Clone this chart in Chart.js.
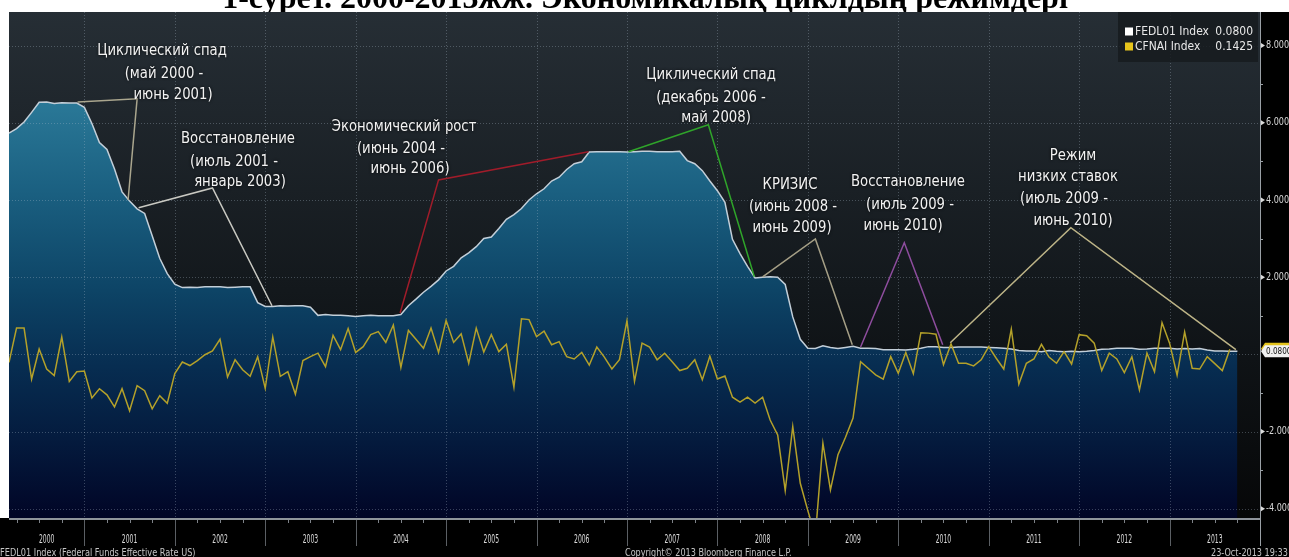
<!DOCTYPE html>
<html lang="ru">
<head>
<meta charset="UTF-8">
<title>FEDL01 / CFNAI 2000-2013</title>
<script src="https://cdn.jsdelivr.net/npm/chart.js"></script>
<style>
  html, body { margin: 0; padding: 0; background: #fff; }
  canvas { display: block; }
</style>
</head>
<body>
<canvas id="chart" width="1289" height="557"></canvas>
<script>
// x = months since 1 Jan 2000, monthly values plotted at month end (first point = Feb 2000)
const firstX = 2;
const years = ['2000','2001','2002','2003','2004','2005','2006','2007','2008','2009','2010','2011','2012','2013'];

// FEDL01 Index (Fed funds effective), Feb 2000 .. Sep 2013
const fedl01 = [
  5.73, 5.85, 6.02, 6.27, 6.53, 6.54, 6.50, 6.52, 6.51, 6.51, 6.40,
  5.98, 5.49, 5.31, 4.80, 4.21, 3.97, 3.77, 3.65, 3.07, 2.49, 2.09, 1.82,
  1.73, 1.74, 1.73, 1.75, 1.75, 1.75, 1.73, 1.74, 1.75, 1.75, 1.34, 1.24,
  1.24, 1.26, 1.25, 1.26, 1.26, 1.22, 1.01, 1.03, 1.01, 1.01, 1.00, 0.98,
  1.00, 1.01, 1.00, 1.00, 1.00, 1.03, 1.26, 1.43, 1.61, 1.76, 1.93, 2.16,
  2.28, 2.50, 2.63, 2.79, 3.00, 3.04, 3.26, 3.50, 3.62, 3.78, 4.00, 4.16,
  4.29, 4.49, 4.59, 4.79, 4.94, 4.99, 5.24, 5.25, 5.25, 5.25, 5.25, 5.24,
  5.25, 5.26, 5.26, 5.25, 5.25, 5.25, 5.26, 5.02, 4.94, 4.76, 4.49, 4.24,
  3.94, 2.98, 2.61, 2.28, 1.98, 2.00, 2.01, 2.00, 1.81, 0.97, 0.39, 0.16,
  0.15, 0.22, 0.18, 0.15, 0.18, 0.21, 0.16, 0.16, 0.15, 0.12, 0.12, 0.12,
  0.11, 0.13, 0.16, 0.20, 0.20, 0.18, 0.18, 0.19, 0.19, 0.19, 0.19, 0.18,
  0.17, 0.16, 0.14, 0.10, 0.09, 0.09, 0.07, 0.10, 0.08, 0.07, 0.08, 0.07,
  0.08, 0.10, 0.13, 0.14, 0.16, 0.16, 0.16, 0.13, 0.14, 0.16, 0.16, 0.16,
  0.14, 0.15, 0.14, 0.15, 0.11, 0.09, 0.09, 0.08, 0.08
];

// CFNAI Index, Feb 2000 .. Aug 2013
const cfnai = [
  -0.21, 0.68, 0.68, -0.64, 0.14, -0.38, -0.55, 0.45, -0.70, -0.45, -0.43,
  -1.13, -0.89, -1.05, -1.36, -0.89, -1.46, -0.81, -0.94, -1.41, -1.07, -1.27, -0.50,
  -0.20, -0.29, -0.16, -0.01, 0.09, 0.39, -0.59, -0.14, -0.40, -0.57, -0.06, -0.88,
  0.45, -0.57, -0.45, -1.03, -0.16, -0.06, 0.03, -0.32, 0.49, 0.12, 0.67, 0.05,
  0.20, 0.51, 0.59, 0.31, 0.76, -0.34, 0.62, 0.39, 0.16, 0.68, 0.05, 0.88,
  0.31, 0.53, -0.23, 0.68, 0.06, 0.51, 0.07, 0.26, -0.85, 0.92, 0.90, 0.46,
  0.60, 0.25, 0.33, -0.06, -0.12, 0.05, -0.28, 0.19, -0.07, -0.38, -0.14, 0.87,
  -0.70, 0.29, 0.19, -0.14, 0.03, -0.19, -0.42, -0.36, -0.14, -0.66, -0.05, -0.64,
  -0.56, -1.11, -1.24, -1.11, -1.26, -1.11, -1.70, -2.09, -3.53, -1.87, -3.34, -4.05,
  -4.70, -2.30, -3.51, -2.60, -2.15, -1.65, -0.19, -0.36, -0.53, -0.64, -0.06, -0.49,
  0.05, -0.50, 0.56, 0.55, 0.52, -0.27, 0.27, -0.23, -0.23, -0.30, -0.14, 0.20,
  -0.10, -0.38, 0.65, -0.77, -0.23, -0.12, 0.26, -0.07, -0.23, 0.07, -0.25, 0.51,
  0.48, 0.29, -0.42, 0.03, -0.12, -0.47, -0.06, -0.92, 0.03, -0.45, 0.82, 0.29,
  -0.54, 0.58, -0.36, -0.38, -0.06, -0.24, -0.42, 0.13
];

const rightTicks = [-4, -2, 2, 4, 6, 8];
const gridValues = [-4, -2, 0, 2, 4, 6, 8];
const yMin = -4.24, yMax = 8.87;
const xMax = 168;

const legendItems = [
  ['FEDL01 Index', '0.0800', '#ffffff'],
  ['CFNAI Index', '0.1425', '#e6c41c']
];

// regime call-outs: leader line in data units, text lines in pixels
const notes = [
  { color: '#aaa68e', path: [[11.1, 6.54], [19.0, 6.62], [17.8, 4.0]],
    text: [['Циклический спад', 162, 51], ['(май 2000 -', 164, 74], ['июнь 2001)', 173, 95]] },
  { color: '#c9c9c2', path: [[19.2, 3.80], [29.0, 4.31], [36.9, 1.26]],
    text: [['Восстановление', 238, 139], ['(июль 2001 -', 234, 162], ['январь 2003)', 240, 182]] },
  { color: '#a01c2a', path: [[53.9, 1.07], [59.0, 4.52], [78.9, 5.25]],
    text: [['Экономический рост', 404, 127], ['(июнь 2004 -', 401, 149], ['июнь 2006)', 410, 169]] },
  { color: '#2fa42a', path: [[84.2, 5.25], [94.8, 5.95], [100.9, 2.01]],
    text: [['Циклический спад', 711, 75], ['(декабрь 2006 -', 711, 98], ['май 2008)', 716, 118]] },
  { color: '#a59f86', path: [[102.0, 2.01], [109.0, 2.99], [113.9, 0.25]],
    text: [['КРИЗИС', 790, 185], ['(июнь 2008 -', 793, 207], ['июнь 2009)', 792, 228]] },
  { color: '#8e4d9e', path: [[115.0, 0.19], [120.8, 2.89], [125.9, 0.25]],
    text: [['Восстановление', 908, 182], ['(июль 2009 -', 910, 205], ['июнь 2010)', 903, 226]] },
  { color: '#bdb487', path: [[126.9, 0.30], [142.9, 3.28], [164.8, 0.12]],
    text: [['Режим', 1073, 156], ['низких ставок', 1068, 177], ['(июль 2009 -', 1064, 199], ['июнь 2010)', 1073, 221]] }
];

const title = '1-сурет. 2000-2013жж. Экономикалық циклдың режимдері';
const COND = '"DejaVu Sans Condensed", "DejaVu Sans", sans-serif';

function txt(ctx, s, x, y, font, color, align, sx) {
  ctx.save();
  ctx.font = font;
  ctx.fillStyle = color;
  ctx.textAlign = align || 'left';
  ctx.textBaseline = 'middle';
  ctx.translate(x, y);
  ctx.scale(sx || 1, 1);
  ctx.fillText(s, 0, 0);
  ctx.restore();
}

const decor = {
  id: 'decor',
  beforeDraw(chart) {
    const ctx = chart.ctx, a = chart.chartArea, W = chart.width, H = chart.height;
    ctx.save();
    ctx.fillStyle = '#fff';
    ctx.fillRect(0, 0, W, H);
    ctx.font = 'bold 32px "Liberation Serif", serif';
    ctx.fillStyle = '#000';
    ctx.textAlign = 'center';
    ctx.textBaseline = 'alphabetic';
    ctx.fillText(title, 645, 8);

    ctx.fillStyle = '#000';
    ctx.fillRect(0, a.top, W, H - a.top);
    ctx.fillStyle = '#fff';
    ctx.fillRect(0, a.top, a.left, a.bottom - a.top);
    const bg = ctx.createLinearGradient(0, a.top, 0, a.bottom);
    bg.addColorStop(0, '#262e35');
    bg.addColorStop(0.55, '#13181c');
    bg.addColorStop(1, '#060708');
    ctx.fillStyle = bg;
    ctx.fillRect(a.left, a.top, a.right - a.left, a.bottom - a.top);
    ctx.restore();
  },
  afterDatasetDraw(chart, args) {
    if (args.index !== 1) return;
    // dotted grid on top of the area fill
    const ctx = chart.ctx, a = chart.chartArea, xs = chart.scales.x, ys = chart.scales.y;
    ctx.save();
    ctx.strokeStyle = 'rgba(175,190,205,0.32)';
    ctx.lineWidth = 1;
    ctx.setLineDash([1, 2]);
    for (let k = 1; k < years.length; k++) {
      const x = Math.round(xs.getPixelForValue(k * 12)) + 0.5;
      ctx.beginPath(); ctx.moveTo(x, a.top); ctx.lineTo(x, a.bottom); ctx.stroke();
    }
    gridValues.forEach(v => {
      const y = Math.round(ys.getPixelForValue(v)) + 0.5;
      ctx.beginPath(); ctx.moveTo(a.left, y); ctx.lineTo(a.right, y); ctx.stroke();
    });
    ctx.restore();
  },
  afterDatasetsDraw(chart) {
    const ctx = chart.ctx, xs = chart.scales.x, ys = chart.scales.y;
    ctx.save();
    notes.forEach(n => {
      ctx.strokeStyle = n.color;
      ctx.lineWidth = 1.5;
      ctx.beginPath();
      n.path.forEach((p, i) => {
        const px = xs.getPixelForValue(p[0]), py = ys.getPixelForValue(p[1]);
        if (i === 0) ctx.moveTo(px, py); else ctx.lineTo(px, py);
      });
      ctx.stroke();
    });
    ctx.shadowColor = 'rgba(0,0,0,0.9)';
    ctx.shadowBlur = 3;
    notes.forEach(n => {
      n.text.forEach(t => txt(ctx, t[0], t[1], t[2], '15px ' + COND, '#f2f2f2', 'center', 0.98));
    });
    ctx.restore();
  },
  afterDraw(chart) {
    const ctx = chart.ctx, a = chart.chartArea, xs = chart.scales.x, ys = chart.scales.y, W = chart.width;
    ctx.save();

    // legend box
    ctx.fillStyle = 'rgba(22,27,31,0.85)';
    ctx.fillRect(1118, a.top, 140, 50);
    legendItems.forEach((it, i) => {
      const y = 31.5 + i * 15;
      ctx.fillStyle = it[2];
      ctx.fillRect(1125, y - 4, 8, 8);
      txt(ctx, it[0], 1135, y, '13px ' + COND, '#e8e8e8', 'left', 0.92);
      txt(ctx, it[1], 1253, y, '13px ' + COND, '#e8e8e8', 'right', 0.92);
    });

    // bottom axis
    ctx.strokeStyle = '#8f959c';
    ctx.lineWidth = 2;
    ctx.beginPath(); ctx.moveTo(a.left, a.bottom + 1); ctx.lineTo(a.right, a.bottom + 1); ctx.stroke();
    ctx.lineWidth = 1;
    ctx.strokeStyle = '#7d8288';
    for (let m = 3; m < xMax; m += 3) {
      if (m % 12 === 0) continue;
      const x = Math.round(xs.getPixelForValue(m)) + 0.5;
      ctx.beginPath(); ctx.moveTo(x, a.bottom + 2); ctx.lineTo(x, a.bottom + 5); ctx.stroke();
    }
    ctx.strokeStyle = '#5b5f64';
    for (let k = 1; k < years.length; k++) {
      const x = Math.round(xs.getPixelForValue(k * 12)) + 0.5;
      ctx.beginPath(); ctx.moveTo(x, a.bottom + 2); ctx.lineTo(x, a.bottom + 28); ctx.stroke();
    }
    years.forEach((yr, k) => {
      const x0 = Math.max(k * 12, xs.min), x1 = (k + 1) * 12;
      const x = xs.getPixelForValue((x0 + x1) / 2);
      txt(ctx, yr, x, a.bottom + 22, '13px ' + COND, '#dadada', 'center', 0.52);
    });

    // right axis
    ctx.strokeStyle = '#9aa0a6';
    ctx.beginPath(); ctx.moveTo(a.right + 0.5, a.top); ctx.lineTo(a.right + 0.5, a.bottom + 28); ctx.stroke();
    for (let v = -3; v <= 8; v++) {
      if (v % 2 === 0) continue;
      const y = Math.round(ys.getPixelForValue(v)) + 0.5;
      ctx.beginPath(); ctx.moveTo(a.right, y); ctx.lineTo(a.right + 3, y); ctx.stroke();
    }
    rightTicks.forEach(v => {
      const y = ys.getPixelForValue(v);
      ctx.fillStyle = '#dcdcdc';
      ctx.beginPath(); ctx.moveTo(a.right + 1, y - 2.5); ctx.lineTo(a.right + 5, y); ctx.lineTo(a.right + 1, y + 2.5); ctx.fill();
      txt(ctx, v.toFixed(3), a.right + 6, y, '10px ' + COND, '#d8d8d8', 'left', 0.9);
    });

    // last value tags
    const tag = (v, fill) => {
      const y = ys.getPixelForValue(v);
      ctx.fillStyle = fill;
      ctx.beginPath();
      ctx.moveTo(a.right + 1, y); ctx.lineTo(a.right + 5, y - 6); ctx.lineTo(W, y - 6);
      ctx.lineTo(W, y + 6); ctx.lineTo(a.right + 5, y + 6); ctx.closePath(); ctx.fill();
      return y;
    };
    tag(0.1425, '#e3c21b');
    const yv = tag(0.08, '#f0f0f0');
    txt(ctx, '0.0800', a.right + 6, yv, '9px ' + COND, '#111', 'left', 0.9);

    // footer
    txt(ctx, 'FEDL01 Index (Federal Funds Effective Rate US)', 0, 553, '10px ' + COND, '#c4c4c4', 'left', 0.91);
    txt(ctx, 'Copyright\u00a9 2013 Bloomberg Finance L.P.', 625, 553, '10px ' + COND, '#c4c4c4', 'left', 0.9);
    txt(ctx, '23-Oct-2013 19:33:', 1211, 553, '10px ' + COND, '#c4c4c4', 'left', 0.9);
    ctx.restore();
  }
};

const toPoints = arr => arr.map((v, i) => ({ x: firstX + i, y: v }));

new Chart(document.getElementById('chart'), {
  type: 'line',
  data: {
    datasets: [
      {
        label: 'CFNAI Index',
        data: toPoints(cfnai),
        borderColor: '#b4a12a',
        borderWidth: 1.5,
        pointRadius: 0,
        tension: 0,
        fill: false
      },
      {
        label: 'FEDL01 Index',
        data: toPoints(fedl01),
        borderColor: '#c3cfd9',
        borderWidth: 1.5,
        pointRadius: 0,
        tension: 0,
        fill: 'start',
        backgroundColor: (c) => {
          const a = c.chart.chartArea;
          if (!a) return '#1a5f80';
          const g = c.chart.ctx.createLinearGradient(0, a.top, 0, a.bottom);
          g.addColorStop(0, '#3892b0');
          g.addColorStop(0.18, '#2a7897');
          g.addColorStop(0.36, '#1a5f80');
          g.addColorStop(0.55, '#0d4466');
          g.addColorStop(0.7, '#072d51');
          g.addColorStop(0.85, '#041a3d');
          g.addColorStop(1, '#010526');
          return g;
        }
      }
    ]
  },
  options: {
    responsive: false,
    animation: false,
    devicePixelRatio: 1,
    layout: { padding: { left: 9, right: 29, top: 12, bottom: 39 } },
    plugins: { legend: { display: false }, tooltip: { enabled: false } },
    scales: {
      x: { type: 'linear', min: firstX, max: xMax, display: false },
      y: { min: yMin, max: yMax, display: false }
    }
  },
  plugins: [decor]
});
</script>
</body>
</html>
